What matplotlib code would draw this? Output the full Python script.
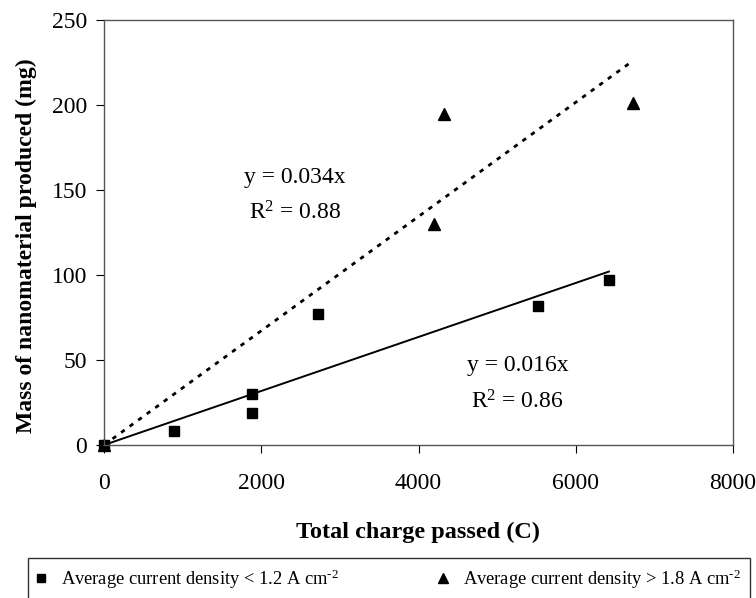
import matplotlib
matplotlib.use("Agg")
import matplotlib.pyplot as plt
import numpy as np

plt.rcParams.update({"font.family": "Liberation Serif",
                     "mathtext.fontset": "custom",
                     "mathtext.rm": "Liberation Serif",
                     "mathtext.it": "Liberation Serif:italic",
                     "mathtext.bf": "Liberation Serif:bold"})

# low current density series (squares)
low_charge = [0, 886, 1885, 1885, 2728, 5520, 6421]
low_mass = [0, 8.5, 19, 30, 77, 81.5, 97]
# high current density series (triangles)
high_charge = [0, 4193, 4325, 6731]
high_mass = [0, 130, 195, 201]

low_x = np.array(low_charge, dtype=float)
low_y = np.array(low_mass, dtype=float)
high_x = np.array(high_charge, dtype=float)
high_y = np.array(high_mass, dtype=float)

# linear trendlines forced through the origin
k_low = (low_x * low_y).sum() / (low_x ** 2).sum()
k_high = (high_x * high_y).sum() / (high_x ** 2).sum()

fig = plt.figure(figsize=(7.56, 5.98), dpi=100)
ax = fig.add_axes([104 / 756, 1 - 445 / 598, 629 / 756, 425 / 598])

xl = np.array([0, low_x.max()])
ax.plot(xl, k_low * xl, "-", color="black", linewidth=1.4)
xh = np.array([0, high_x.max()])
ax.plot(xh, k_high * xh, color="black", linewidth=2.0, linestyle=(0, (1.6, 2.2)))

ax.plot(high_x, high_y, "^", color="black", markersize=8, clip_on=False,
        label=r"Average current density > 1.8 A cm$^{\text{-2}}$", linestyle="none")
ax.plot(low_x, low_y, "s", color="black", markersize=7, clip_on=False,
        label=r"Average current density < 1.2 A cm$^{\text{-2}}$", linestyle="none")

ax.text(2427, 157.5, "y = 0.034x", fontsize=17, ha="center", va="center")
ax.text(2427, 136.4, r"R$^2$ = 0.88", fontsize=17, ha="center", va="center")
ax.text(5262, 47, "y = 0.016x", fontsize=17, ha="center", va="center")
ax.text(5262, 25.6, r"R$^2$ = 0.86", fontsize=17, ha="center", va="center")

ax.set_xlim(0, 8000)
ax.set_ylim(0, 250)
ax.set_xticks([0, 2000, 4000, 6000, 8000])
ax.set_yticks([0, 50, 100, 150, 200, 250])
ax.tick_params(axis="x", labelsize=17, length=6, width=0.8, pad=14, direction="out")
ax.tick_params(axis="y", labelsize=17, length=6, width=0.8, pad=6, direction="out")
for s in ax.spines.values():
    s.set_color("#555555")
    s.set_linewidth(1.0)

ax.set_xlabel("Total charge passed (C)", fontsize=17.5, fontweight="bold", labelpad=20)
ax.set_ylabel("Mass of nanomaterial produced (mg)", fontsize=17, fontweight="bold")
ax.yaxis.set_label_coords(-0.107, 0.47)

h, l = ax.get_legend_handles_labels()
leg = fig.legend(h[::-1], l[::-1], loc="upper left", ncol=2,
                 bbox_to_anchor=(28 / 756, 1 - 558 / 598),
                 fontsize=13.3, frameon=True, fancybox=False, edgecolor="black",
                 handlelength=0.4, handletextpad=0.9, columnspacing=5.4,
                 borderpad=0.5, borderaxespad=0, markerscale=0.85)
leg.get_frame().set_linewidth(1.0)

fig.savefig("out.png", dpi=100)
